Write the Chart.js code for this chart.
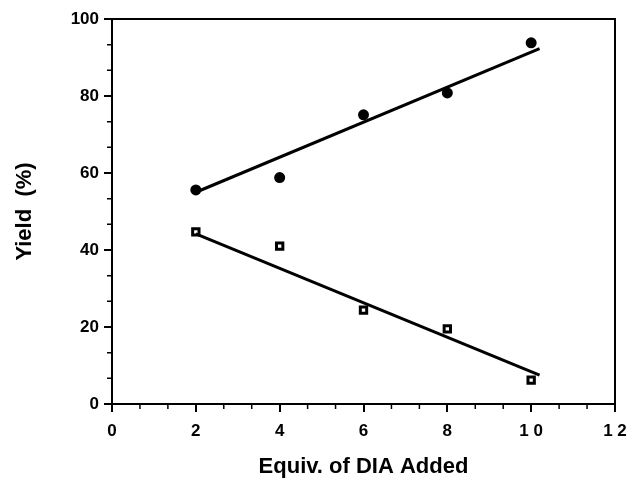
<!DOCTYPE html>
<html>
<head>
<meta charset="utf-8">
<script src="https://cdn.jsdelivr.net/npm/chart.js@4/dist/chart.umd.min.js"></script>
<style>
  html, body { margin: 0; padding: 0; background: #fff; }
  #wrap { width: 627px; height: 478px; }
</style>
</head>
<body>
<div id="wrap"><canvas id="c" width="627" height="478"></canvas></div>
<script>
  // values
  const equiv = [2, 4, 6, 8, 10];
  const yieldFilled = [55.6, 58.8, 75.1, 80.8, 93.8];
  const yieldOpen = [44.7, 41.0, 24.4, 19.5, 6.2];
  // straight fit lines (end points)
  const fitX = [2, 10.2];
  const fitFilled = [55.0, 92.3];
  const fitOpen = [44.2, 7.5];

  const xTicks = [0, 2, 4, 6, 8, 10, 12];
  const yTicks = [0, 20, 40, 60, 80, 100];

  const pts = (xs, ys) => xs.map((x, i) => ({ x, y: ys[i] }));
  const spaced = v => String(v).split('').join(' ');

  const fontFam = '"Liberation Sans", Arial, Helvetica, sans-serif';

  // frame + minor ticks
  const framePlugin = {
    id: 'frame',
    afterDraw(chart) {
      const { ctx, chartArea: a, scales } = chart;
      ctx.save();
      ctx.strokeStyle = '#000';
      ctx.lineWidth = 2;
      ctx.beginPath();
      ctx.moveTo(a.left, a.top);
      ctx.lineTo(a.right, a.top);
      ctx.lineTo(a.right, a.bottom);
      ctx.stroke();
      // minor ticks: 3 per major interval
      ctx.lineWidth = 1.5;
      ctx.beginPath();
      for (let i = 0; i < xTicks.length - 1; i++) {
        for (let k = 1; k < 3; k++) {
          const v = xTicks[i] + (xTicks[i + 1] - xTicks[i]) * k / 3;
          const px = scales.x.getPixelForValue(v);
          ctx.moveTo(px, a.bottom);
          ctx.lineTo(px, a.bottom + 5);
        }
      }
      for (let i = 0; i < yTicks.length - 1; i++) {
        for (let k = 1; k < 3; k++) {
          const v = yTicks[i] + (yTicks[i + 1] - yTicks[i]) * k / 3;
          const py = scales.y.getPixelForValue(v);
          ctx.moveTo(a.left, py);
          ctx.lineTo(a.left - 5, py);
        }
      }
      ctx.stroke();
      ctx.restore();
    }
  };

  new Chart(document.getElementById('c'), {
    type: 'scatter',
    data: {
      datasets: [
        {
          label: 'fit filled',
          data: pts(fitX, fitFilled),
          showLine: true,
          borderColor: '#000',
          borderWidth: 3,
          pointRadius: 0,
        },
        {
          label: 'fit open',
          data: pts(fitX, fitOpen),
          showLine: true,
          borderColor: '#000',
          borderWidth: 3,
          pointRadius: 0,
        },
        {
          label: 'filled',
          data: pts(equiv, yieldFilled),
          pointStyle: 'circle',
          pointRadius: 5.5,
          backgroundColor: '#000',
          borderColor: '#000',
          borderWidth: 0,
        },
        {
          label: 'open',
          data: pts(equiv, yieldOpen),
          pointStyle: 'rect',
          pointRadius: 4.5,
          backgroundColor: '#fff',
          borderColor: '#000',
          borderWidth: 3,
        },
      ],
    },
    options: {
      responsive: false,
      animation: false,
      layout: { padding: { top: 19, right: 12, left: 0, bottom: 0 } },
      plugins: { legend: { display: false }, tooltip: { enabled: false } },
      scales: {
        x: {
          type: 'linear',
          min: 0,
          max: 12,
          afterBuildTicks: s => { s.ticks = xTicks.map(v => ({ value: v })); },
          afterFit: s => { s.height = 74; s.paddingRight = 0; s.paddingLeft = 0; },
          grid: { drawOnChartArea: false, color: '#000', lineWidth: 2, tickLength: 8 },
          border: { color: '#000', width: 2 },
          ticks: {
            color: '#000',
            padding: 9,
            maxRotation: 0,
            font: { family: fontFam, size: 17, weight: 'bold' },
            callback: v => v >= 10 ? spaced(v) : String(v),
          },
          title: {
            display: true,
            text: 'Equiv. of DIA Added',
            color: '#000',
            font: { family: fontFam, size: 22, weight: 'bold' },
            padding: { top: 0, bottom: -2 },
          },
        },
        y: {
          min: 0,
          max: 100,
          afterBuildTicks: s => { s.ticks = yTicks.map(v => ({ value: v })); },
          afterFit: s => { s.width = 112; },
          grid: { drawOnChartArea: false, color: '#000', lineWidth: 2, tickLength: 8 },
          border: { color: '#000', width: 2 },
          ticks: {
            color: '#000',
            padding: 5,
            font: { family: fontFam, size: 17, weight: 'bold' },
          },
          title: {
            display: true,
            text: 'Yield  (%)',
            color: '#000',
            font: { family: fontFam, size: 22, weight: 'bold' },
            padding: { bottom: 0, top: 12 },
          },
        },
      },
    },
    plugins: [framePlugin],
  });
</script>
</body>
</html>
